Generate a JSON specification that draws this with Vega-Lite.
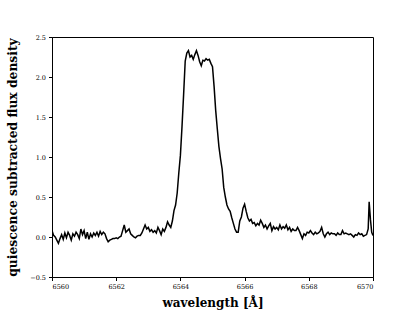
{
  "$schema": "https://vega.github.io/schema/vega-lite/v6.json",
  "autosize": "none",
  "padding": {"left": 52, "top": 37, "right": 42, "bottom": 34},
  "width": 321,
  "height": 240,
  "background": "white",
  "config": {
    "view": {"stroke": "#000000", "strokeWidth": 1},
    "axis": {
      "labelFont": "DejaVu Serif",
      "titleFont": "DejaVu Serif",
      "labelFontSize": 6.5,
      "titleFontWeight": "bold",
      "labelColor": "#000000",
      "titleColor": "#000000",
      "domainColor": "#000000",
      "tickColor": "#000000",
      "tickSize": 3.5,
      "grid": false
    }
  },
  "data": {
    "values": [
      {"w": 6560.00, "f": 0.08}, {"w": 6560.05, "f": 0.02}, {"w": 6560.10, "f": 0.00}, {"w": 6560.15, "f": -0.04},
      {"w": 6560.20, "f": -0.08}, {"w": 6560.25, "f": -0.02}, {"w": 6560.30, "f": 0.03}, {"w": 6560.35, "f": -0.03},
      {"w": 6560.40, "f": 0.05}, {"w": 6560.45, "f": -0.01}, {"w": 6560.50, "f": 0.06}, {"w": 6560.55, "f": 0.02},
      {"w": 6560.60, "f": -0.04}, {"w": 6560.65, "f": 0.04}, {"w": 6560.70, "f": 0.01}, {"w": 6560.75, "f": 0.06},
      {"w": 6560.80, "f": 0.03}, {"w": 6560.85, "f": -0.02}, {"w": 6560.90, "f": 0.10}, {"w": 6560.95, "f": 0.03},
      {"w": 6561.00, "f": 0.08}, {"w": 6561.05, "f": -0.02}, {"w": 6561.10, "f": 0.06}, {"w": 6561.15, "f": -0.03},
      {"w": 6561.20, "f": 0.04}, {"w": 6561.25, "f": 0.00}, {"w": 6561.30, "f": 0.05}, {"w": 6561.35, "f": 0.02},
      {"w": 6561.40, "f": 0.06}, {"w": 6561.45, "f": 0.01}, {"w": 6561.50, "f": 0.07}, {"w": 6561.55, "f": 0.03},
      {"w": 6561.60, "f": 0.06}, {"w": 6561.65, "f": 0.04}, {"w": 6561.70, "f": -0.02}, {"w": 6561.75, "f": -0.06},
      {"w": 6561.80, "f": -0.04}, {"w": 6561.85, "f": -0.03}, {"w": 6561.90, "f": -0.02}, {"w": 6561.95, "f": -0.02},
      {"w": 6562.00, "f": -0.01}, {"w": 6562.05, "f": -0.02}, {"w": 6562.10, "f": 0.00}, {"w": 6562.15, "f": 0.01},
      {"w": 6562.20, "f": 0.08}, {"w": 6562.25, "f": 0.15}, {"w": 6562.30, "f": 0.06}, {"w": 6562.35, "f": 0.08},
      {"w": 6562.40, "f": 0.10}, {"w": 6562.45, "f": 0.04}, {"w": 6562.50, "f": 0.02}, {"w": 6562.55, "f": 0.00},
      {"w": 6562.60, "f": -0.01}, {"w": 6562.65, "f": 0.01}, {"w": 6562.70, "f": 0.02}, {"w": 6562.75, "f": 0.02},
      {"w": 6562.80, "f": 0.05}, {"w": 6562.85, "f": 0.10}, {"w": 6562.90, "f": 0.15}, {"w": 6562.95, "f": 0.10},
      {"w": 6563.00, "f": 0.12}, {"w": 6563.05, "f": 0.07}, {"w": 6563.10, "f": 0.09}, {"w": 6563.15, "f": 0.06},
      {"w": 6563.20, "f": 0.08}, {"w": 6563.25, "f": 0.05}, {"w": 6563.30, "f": 0.12}, {"w": 6563.35, "f": 0.08},
      {"w": 6563.40, "f": 0.03}, {"w": 6563.45, "f": 0.10}, {"w": 6563.50, "f": 0.07}, {"w": 6563.55, "f": 0.12},
      {"w": 6563.60, "f": 0.19}, {"w": 6563.65, "f": 0.15}, {"w": 6563.70, "f": 0.12}, {"w": 6563.75, "f": 0.20},
      {"w": 6563.80, "f": 0.33}, {"w": 6563.85, "f": 0.40}, {"w": 6563.90, "f": 0.55}, {"w": 6563.95, "f": 0.80},
      {"w": 6564.00, "f": 1.02}, {"w": 6564.05, "f": 1.38}, {"w": 6564.10, "f": 1.78}, {"w": 6564.15, "f": 2.20},
      {"w": 6564.20, "f": 2.30}, {"w": 6564.25, "f": 2.33}, {"w": 6564.30, "f": 2.25}, {"w": 6564.35, "f": 2.27},
      {"w": 6564.40, "f": 2.22}, {"w": 6564.45, "f": 2.28}, {"w": 6564.50, "f": 2.33}, {"w": 6564.55, "f": 2.27},
      {"w": 6564.60, "f": 2.19}, {"w": 6564.65, "f": 2.14}, {"w": 6564.70, "f": 2.21}, {"w": 6564.75, "f": 2.20},
      {"w": 6564.80, "f": 2.23}, {"w": 6564.85, "f": 2.21}, {"w": 6564.90, "f": 2.22}, {"w": 6564.95, "f": 2.17},
      {"w": 6565.00, "f": 2.13}, {"w": 6565.05, "f": 1.88}, {"w": 6565.10, "f": 1.58}, {"w": 6565.15, "f": 1.35},
      {"w": 6565.20, "f": 1.13}, {"w": 6565.25, "f": 0.98}, {"w": 6565.30, "f": 0.85}, {"w": 6565.35, "f": 0.62},
      {"w": 6565.40, "f": 0.50}, {"w": 6565.45, "f": 0.40}, {"w": 6565.50, "f": 0.35}, {"w": 6565.55, "f": 0.32},
      {"w": 6565.60, "f": 0.24}, {"w": 6565.65, "f": 0.17}, {"w": 6565.70, "f": 0.10}, {"w": 6565.75, "f": 0.06},
      {"w": 6565.80, "f": 0.06}, {"w": 6565.85, "f": 0.20}, {"w": 6565.90, "f": 0.25}, {"w": 6565.95, "f": 0.36},
      {"w": 6566.00, "f": 0.41}, {"w": 6566.05, "f": 0.32}, {"w": 6566.10, "f": 0.24}, {"w": 6566.15, "f": 0.20},
      {"w": 6566.20, "f": 0.22}, {"w": 6566.25, "f": 0.17}, {"w": 6566.30, "f": 0.18}, {"w": 6566.35, "f": 0.14},
      {"w": 6566.40, "f": 0.17}, {"w": 6566.45, "f": 0.15}, {"w": 6566.50, "f": 0.21}, {"w": 6566.55, "f": 0.17},
      {"w": 6566.60, "f": 0.12}, {"w": 6566.65, "f": 0.15}, {"w": 6566.70, "f": 0.10}, {"w": 6566.75, "f": 0.14},
      {"w": 6566.80, "f": 0.17}, {"w": 6566.85, "f": 0.08}, {"w": 6566.90, "f": 0.13}, {"w": 6566.95, "f": 0.10},
      {"w": 6567.00, "f": 0.12}, {"w": 6567.05, "f": 0.09}, {"w": 6567.10, "f": 0.15}, {"w": 6567.15, "f": 0.10},
      {"w": 6567.20, "f": 0.13}, {"w": 6567.25, "f": 0.11}, {"w": 6567.30, "f": 0.15}, {"w": 6567.35, "f": 0.09},
      {"w": 6567.40, "f": 0.12}, {"w": 6567.45, "f": 0.07}, {"w": 6567.50, "f": 0.10}, {"w": 6567.55, "f": 0.08},
      {"w": 6567.60, "f": 0.08}, {"w": 6567.65, "f": 0.12}, {"w": 6567.70, "f": 0.08}, {"w": 6567.75, "f": 0.03},
      {"w": 6567.80, "f": -0.02}, {"w": 6567.85, "f": 0.04}, {"w": 6567.90, "f": 0.02}, {"w": 6567.95, "f": 0.06},
      {"w": 6568.00, "f": 0.05}, {"w": 6568.05, "f": 0.08}, {"w": 6568.10, "f": 0.05}, {"w": 6568.15, "f": 0.03},
      {"w": 6568.20, "f": 0.06}, {"w": 6568.25, "f": 0.04}, {"w": 6568.30, "f": 0.05}, {"w": 6568.35, "f": 0.07},
      {"w": 6568.40, "f": 0.12}, {"w": 6568.45, "f": 0.04}, {"w": 6568.50, "f": 0.00}, {"w": 6568.55, "f": 0.04},
      {"w": 6568.60, "f": 0.06}, {"w": 6568.65, "f": 0.03}, {"w": 6568.70, "f": 0.05}, {"w": 6568.75, "f": 0.04},
      {"w": 6568.80, "f": 0.04}, {"w": 6568.85, "f": 0.02}, {"w": 6568.90, "f": 0.05}, {"w": 6568.95, "f": 0.03},
      {"w": 6569.00, "f": 0.03}, {"w": 6569.05, "f": 0.08}, {"w": 6569.10, "f": 0.04}, {"w": 6569.15, "f": 0.05},
      {"w": 6569.20, "f": 0.04}, {"w": 6569.25, "f": 0.03}, {"w": 6569.30, "f": 0.04}, {"w": 6569.35, "f": 0.02},
      {"w": 6569.40, "f": 0.00}, {"w": 6569.45, "f": 0.03}, {"w": 6569.50, "f": 0.02}, {"w": 6569.55, "f": 0.05},
      {"w": 6569.60, "f": 0.03}, {"w": 6569.65, "f": 0.04}, {"w": 6569.70, "f": 0.01}, {"w": 6569.75, "f": 0.02},
      {"w": 6569.80, "f": 0.03}, {"w": 6569.85, "f": 0.10}, {"w": 6569.88, "f": 0.44}, {"w": 6569.92, "f": 0.22},
      {"w": 6569.96, "f": 0.06}, {"w": 6570.00, "f": 0.02}
    ]
  },
  "mark": {"type": "line", "color": "#000000", "strokeWidth": 1.5, "clip": true},
  "encoding": {
    "x": {
      "field": "w", "type": "quantitative",
      "scale": {"domain": [6560, 6570], "nice": false, "zero": false},
      "axis": {"values": [6560, 6562, 6564, 6566, 6568, 6570], "format": "d", "title": "wavelength [Å]", "titleFontSize": 12, "titlePadding": 7, "labelPadding": 3}
    },
    "y": {
      "field": "f", "type": "quantitative",
      "scale": {"domain": [-0.5, 2.5], "nice": false, "zero": false},
      "axis": {"values": [-0.5, 0, 0.5, 1, 1.5, 2, 2.5], "format": ".1f", "title": "quiescence subtracted flux density", "titleFontSize": 12.3, "titlePadding": 10, "labelPadding": 3}
    }
  }
}
